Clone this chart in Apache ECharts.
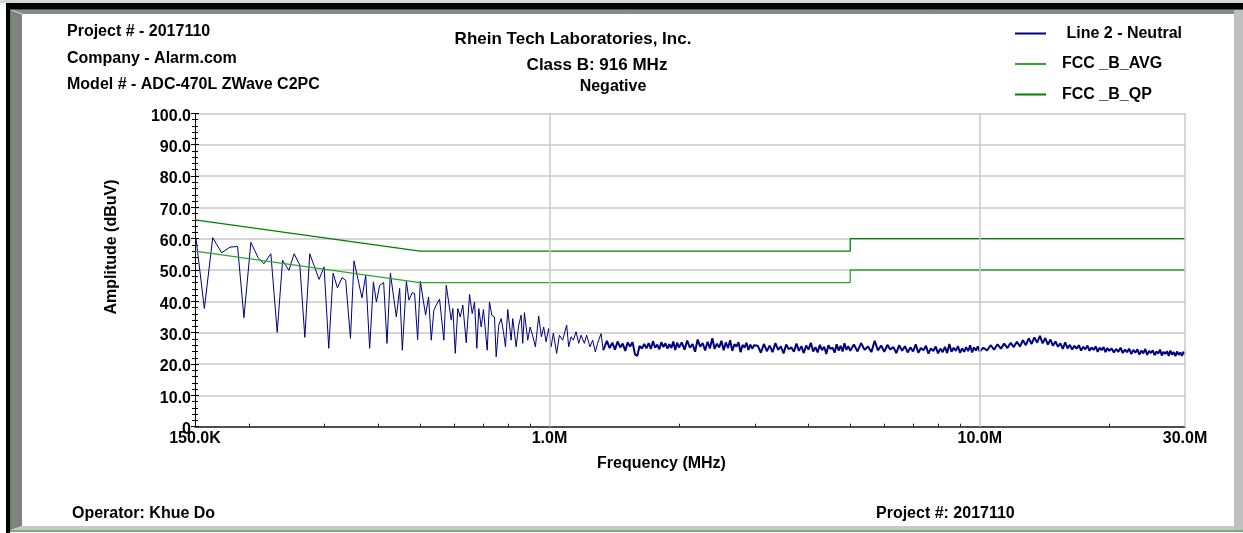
<!DOCTYPE html>
<html><head><meta charset="utf-8">
<script src="https://cdn.jsdelivr.net/npm/echarts@6/dist/echarts.min.js"></script>
<style>html,body{margin:0;padding:0;background:#fff}#c{width:1243px;height:533px}</style>
</head><body><div id="c"></div>
<script>
// ---- data (frequency in MHz, level in dBuV) ----
const neutralLow = [[0.1508,60.1],[0.1577,37.7],[0.1649,60.3],[0.1730,55.5],[0.1809,57.3],[0.1884,57.5],[0.1949,34.8],[0.2023,58.8],[0.2103,53.9],[0.2169,52.0],[0.2251,55.2],[0.2329,30.1],[0.2397,53.1],[0.2479,49.9],[0.2550,55.2],[0.2629,51.5],[0.2700,28.5],[0.2772,55.2],[0.2914,47.0],[0.2993,51.0],[0.3069,25.0],[0.3141,49.0],[0.3215,44.3],[0.3295,47.6],[0.3360,46.7],[0.3447,28.2],[0.3513,52.9],[0.3666,41.1],[0.3740,48.3],[0.3820,25.0],[0.3897,46.2],[0.3960,39.8],[0.4030,45.1],[0.4117,46.0],[0.4191,26.6],[0.4268,49.0],[0.4406,35.0],[0.4485,44.1],[0.4550,24.4],[0.4649,46.4],[0.4713,40.4],[0.4800,42.8],[0.4859,42.5],[0.4938,27.8],[0.5010,46.4],[0.5153,35.6],[0.5236,41.4],[0.5312,27.6],[0.5386,37.2],[0.5456,38.8],[0.5553,40.7],[0.5682,27.6],[0.5756,45.1],[0.5911,34.0],[0.5962,37.7],[0.6039,23.4],[0.6123,37.7],[0.6203,35.0],[0.6289,38.8],[0.6405,26.8],[0.6519,42.2],[0.6613,36.1],[0.6696,39.8],[0.6778,25.0],[0.6850,37.7],[0.6939,31.8],[0.7024,37.4],[0.7165,24.4],[0.7254,39.8],[0.7344,35.6],[0.7451,35.0],[0.7518,22.3],[0.7623,32.4],[0.7722,34.5],[0.7816,30.3],[0.7902,25.5],[0.7998,37.4],[0.8145,27.6],[0.8215,34.5],[0.8366,25.5],[0.8483,32.4],[0.8592,35.6],[0.8666,26.6],[0.8746,36.4],[0.8901,27.6],[0.9016,31.8],[0.9112,29.7],[0.9275,25.5],[0.9439,35.3],[0.9577,28.7],[0.9695,31.8],[0.9820,27.1],[0.9956,31.3],[1.0086,25.5],[1.0209,29.9],[1.0392,23.4],[1.0544,29.2],[1.0731,27.6],[1.0963,32.4],[1.1083,25.5],[1.1224,28.7],[1.1364,27.6],[1.1528,30.3],[1.1691,26.6],[1.1840,29.2],[1.2052,26.6],[1.2200,29.2],[1.2424,25.5],[1.2597,27.6],[1.2781,23.9],[1.2938,26.6],[1.3176,29.7],[1.3338,24.4]];

const neutralSweep = [
[1.3338,24.4],[1.36,27.4],[1.38,25.1],[1.40,26.8],[1.42,24.6],[1.44,27.2],[1.46,25.3],[1.48,26.5],[1.50,24.2],[1.52,26.9],[1.54,25.6],[1.56,27.0],[1.58,23.1],[1.60,22.6],[1.62,25.8],[1.64,24.9],[1.66,26.4],[1.68,25.0],[1.70,26.7],[1.72,24.8],[1.74,27.3],[1.76,25.2],[1.78,26.2],[1.80,24.7],[1.82,27.0],[1.84,25.4],[1.86,26.6],[1.88,24.9],[1.90,26.3],[1.92,25.1],[1.94,27.2],[1.96,24.5],[1.98,26.8],[2.00,25.3],
[2.03,26.9],[2.06,24.6],[2.09,27.5],[2.12,25.2],[2.15,26.4],[2.18,23.9],[2.21,27.8],[2.24,25.5],[2.27,26.7],[2.30,24.3],[2.33,27.1],[2.36,25.0],[2.39,28.2],[2.42,24.8],[2.45,26.5],[2.48,25.3],[2.51,27.4],[2.54,24.4],[2.57,26.9],[2.60,25.1],[2.63,27.6],[2.66,24.2],[2.69,26.3],[2.72,25.6],[2.75,27.0],[2.78,23.8],[2.81,26.1],[2.84,25.2],[2.87,26.8],[2.90,24.5],[2.93,26.2],[2.96,24.9],[2.99,26.0],
[3.05,25.8],[3.10,23.6],[3.15,26.4],[3.20,24.1],[3.25,25.9],[3.30,23.8],[3.35,26.7],[3.40,24.5],[3.45,25.6],[3.50,23.4],[3.55,26.2],[3.60,24.7],[3.65,25.3],[3.70,23.9],[3.75,26.5],[3.80,24.2],[3.85,25.7],[3.90,23.5],[3.95,25.9],[4.00,24.6],[4.05,26.8],[4.10,24.0],[4.15,25.4],[4.20,23.7],[4.25,26.1],[4.30,24.4],[4.35,25.5],[4.40,23.2],[4.45,26.0],[4.50,24.8],[4.55,25.2],[4.60,23.6],[4.65,26.3],[4.70,24.3],[4.75,25.8],[4.80,24.0],[4.85,26.6],[4.90,24.5],[4.95,25.7],[5.00,24.2],
[5.1,26.2],[5.2,24.0],[5.3,26.7],[5.4,24.5],[5.5,25.6],[5.6,23.8],[5.7,27.4],[5.8,24.3],[5.9,25.9],[6.0,23.9],[6.1,26.1],[6.2,24.6],[6.3,25.4],[6.4,23.5],[6.5,26.0],[6.6,24.2],[6.7,25.7],[6.8,23.7],[6.9,25.3],[7.0,24.0],[7.1,26.3],[7.2,23.6],[7.3,25.1],[7.4,24.4],[7.5,25.8],[7.6,23.3],[7.7,25.0],[7.8,24.1],[7.9,25.6],[8.0,23.4],[8.1,24.9],[8.2,23.8],[8.3,25.5],[8.4,23.5],[8.5,26.4],[8.6,23.9],[8.7,25.2],[8.8,24.2],[8.9,25.7],[9.0,23.6],[9.1,25.0],[9.2,23.9],[9.3,25.4],[9.4,24.1],[9.5,26.0],[9.6,23.7],[9.7,25.3],[9.8,24.3],[9.9,25.6],[10.0,24.0],
[10.2,25.2],[10.4,24.3],[10.6,26.0],[10.8,24.6],[11.0,26.3],[11.2,24.9],[11.4,26.5],[11.6,25.1],[11.8,26.8],[12.0,25.4],[12.2,27.1],[12.4,25.6],[12.6,27.6],[12.8,26.0],[13.0,28.2],[13.2,26.4],[13.4,28.5],[13.6,26.8],[13.8,29.0],[14.0,26.6],[14.2,28.3],[14.4,26.2],[14.6,27.8],[14.8,25.8],[15.0,27.2],[15.2,25.5],[15.4,26.6],[15.6,24.8],[15.8,26.9],[16.0,25.0],[16.2,26.1],[16.4,24.6],[16.6,25.8],[16.8,24.9],[17.0,26.0],[17.2,24.3],[17.4,25.5],[17.6,24.7],[17.8,25.9],[18.0,24.2],[18.2,25.3],[18.4,24.5],[18.6,25.6],[18.8,23.9],[19.0,25.2],[19.2,24.4],[19.4,25.4],[19.6,23.8],[19.8,25.1],[20.0,24.2],
[20.25,25.0],[20.5,23.7],[20.75,24.8],[21.0,23.9],[21.25,25.2],[21.5,23.5],[21.75,24.6],[22.0,23.8],[22.25,24.9],[22.5,23.2],[22.75,24.5],[23.0,23.6],[23.25,24.7],[23.5,23.0],[23.75,24.3],[24.0,23.4],[24.25,24.8],[24.5,22.9],[24.75,24.2],[25.0,23.5],[25.25,24.4],[25.5,22.8],[25.75,24.0],[26.0,23.3],[26.25,24.6],[26.5,22.7],[26.75,23.9],[27.0,23.2],[27.25,24.1],[27.5,22.6],[27.75,24.3],[28.0,23.0],[28.25,23.8],[28.5,22.5],[28.75,24.0],[29.0,22.9],[29.25,23.7],[29.5,22.6],[29.75,23.9],[30.0,23.1]];

const limitFreq = [0.15, 0.5, 5, 5, 30];
const qpLevel  = [66, 56, 56, 60, 60];
const avgLevel = [56, 46, 46, 50, 50];

const xLabelValues = [0.15, 1, 10, 30];
const xMinorValues = [0.2,0.3,0.4,0.5,0.6,0.7,0.8,0.9,2,3,4,5,6,7,8,9,20];
const xGridValues = [1, 10, 30];
const seriesNames = ['Line 2 - Neutral', 'FCC _B_AVG', 'FCC _B_QP'];

const headerLeft = ['Project # - 2017110', 'Company - Alarm.com', 'Model # - ADC-470L ZWave C2PC'];
const headerCenter = ['Rhein Tech Laboratories, Inc.', 'Class B: 916 MHz', 'Negative'];
const footer = ['Operator: Khue Do', 'Project #: 2017110'];

// ---- chart ----
const FONT = '"Liberation Sans", Arial, sans-serif';
const chart = echarts.init(document.getElementById('c'), null, {renderer: 'canvas'});

function txt(text, x, y, size, align, rot) {
  return {type: 'text', x: x, y: y, rotation: rot || 0, z: 100, silent: true,
    style: {text: text, fill: '#000', font: 'bold ' + size + 'px ' + FONT,
      textAlign: align, align: align, textVerticalAlign: 'middle', verticalAlign: 'middle'}};
}

const graphics = [
  // frame
  {type: 'rect', shape: {x: 0, y: 0, width: 1243, height: 3}, style: {fill: '#d6d6d6'}, z: 90, silent: true},
  {type: 'rect', shape: {x: 6, y: 3, width: 1237, height: 6}, style: {fill: '#000'}, z: 90, silent: true},
  {type: 'rect', shape: {x: 6, y: 3, width: 4, height: 530}, style: {fill: '#000'}, z: 90, silent: true},
  {type: 'polygon', shape: {points: [[11, 10], [1234, 10], [1234, 14], [22, 14]]}, style: {fill: '#8a8a8a'}, z: 90, silent: true},
  {type: 'polygon', shape: {points: [[11, 10], [22, 14], [22, 526], [11, 530]]}, style: {fill: '#808080'}, z: 90, silent: true},
  {type: 'line', shape: {x1: 11, y1: 10, x2: 22, y2: 14}, style: {stroke: '#d8d8d8', lineWidth: 1}, z: 91, silent: true},
  {type: 'polygon', shape: {points: [[1234, 10], [1243, 10], [1243, 530], [1234, 530]]}, style: {fill: '#c0c0c0'}, z: 90, silent: true},
  {type: 'polygon', shape: {points: [[22, 526], [1234, 526], [1234, 530], [11, 530]]}, style: {fill: '#c8c8c8'}, z: 90, silent: true},
  {type: 'line', shape: {x1: 10.5, y1: 9, x2: 10.5, y2: 531}, style: {stroke: '#3f9a3f', lineWidth: 1}, z: 92, silent: true},
  {type: 'line', shape: {x1: 10, y1: 531, x2: 1243, y2: 531}, style: {stroke: '#3f9a3f', lineWidth: 1.5}, z: 92, silent: true},
  {type: 'line', shape: {x1: 10, y1: 9.5, x2: 1243, y2: 9.5}, style: {stroke: '#2f6f2f', lineWidth: 1}, z: 92, silent: true},
  // header / footer texts
  txt(headerLeft[0], 67, 32, 16, 'left'),
  txt(headerLeft[1], 67, 58.5, 16, 'left'),
  txt(headerLeft[2], 67, 85, 16, 'left'),
  txt(headerCenter[0], 573, 39.5, 17, 'center'),
  txt(headerCenter[1], 597, 65, 17, 'center'),
  txt(headerCenter[2], 613, 86.5, 16, 'center'),
  txt(footer[0], 72, 514, 16, 'left'),
  txt(footer[1], 876, 514, 16, 'left'),
  txt('Frequency (MHz)', 661.5, 464, 16, 'center'),
  txt('Amplitude (dBuV)', 112, 247, 16, 'center', Math.PI / 2)
];

function fmtX(v) {
  return v < 1 ? (v * 1000).toFixed(1) + 'K' : v.toFixed(1) + 'M';
}

const yBase = {
  type: 'value', min: 0, max: 100, interval: 10, position: 'left', gridIndex: 0
};

const option = {
  animation: false,
  backgroundColor: '#fff',
  grid: {left: 195, right: 58, top: 113.3, bottom: 106.3, containLabel: false},
  legend: {
    orient: 'vertical', left: 1010, top: 20.5, itemWidth: 31, itemHeight: 2, itemGap: 14.5,
    icon: 'rect', selectedMode: false, data: seriesNames,
    formatter: function (n) { return n === seriesNames[0] ? ' ' + n : n; },
    textStyle: {fontFamily: FONT, fontWeight: 'bold', fontSize: 16, color: '#000', padding: [0, 0, 0, 11]}
  },
  xAxis: {
    type: 'log', logBase: 10, min: 0.15, max: 30,
    axisLine: {show: true, onZero: false, lineStyle: {color: '#222', width: 1.5}},
    axisTick: {show: true, inside: true, length: 3, customValues: xMinorValues, lineStyle: {color: '#222'}},
    axisLabel: {show: true, customValues: xLabelValues, formatter: fmtX, margin: 4,
      fontFamily: FONT, fontWeight: 'bold', fontSize: 16, color: '#000', showMinLabel: true, showMaxLabel: true},
    splitLine: {show: false}, minorTick: {show: false}, minorSplitLine: {show: false}
  },
  yAxis: [
    Object.assign({}, yBase, {
      axisLine: {show: true, lineStyle: {color: '#000', width: 1}},
      axisTick: {show: true, inside: false, length: 4, lineStyle: {color: '#000'}},
      minorTick: {show: true, splitNumber: 5, length: 3, lineStyle: {color: '#000'}},
      axisLabel: {margin: 4, verticalAlign: 'top', lineHeight: 6, fontFamily: FONT, fontWeight: 'bold', fontSize: 16, color: '#000',
        formatter: function (v) { return v === 0 ? '0' : v.toFixed(1); }},
      splitLine: {show: true, lineStyle: {color: '#c8c8c8', width: 1.5}}
    }),
    Object.assign({}, yBase, {
      axisLine: {show: false},
      axisTick: {show: true, inside: true, length: 4, lineStyle: {color: '#000'}},
      minorTick: {show: true, splitNumber: 5, length: 3, lineStyle: {color: '#000'}},
      axisLabel: {show: false},
      splitLine: {show: false}
    })
  ],
  graphic: graphics,
  series: [
    {
      name: 'grid', type: 'line', z: 1, silent: true, showSymbol: false,
      data: [[0.15, 0], [30, 0]], lineStyle: {width: 0, opacity: 0},
      markLine: {silent: true, symbol: ['none', 'none'], label: {show: false},
        lineStyle: {color: '#c8c8c8', width: 1.5, type: 'solid'},
        emphasis: {disabled: true},
        data: xGridValues.map(function (v) { return {xAxis: v}; })}
    },
    {
      name: seriesNames[0], type: 'line', z: 3, color: '#000080',
      showSymbol: false, symbol: 'none', silent: true,
      lineStyle: {color: '#000080', width: 1},
      data: neutralLow
    },
    {
      name: seriesNames[0], type: 'line', z: 3, color: '#000080',
      showSymbol: false, symbol: 'none', silent: true,
      lineStyle: {color: '#000080', width: 2},
      data: neutralSweep
    },
    {
      name: seriesNames[1], type: 'line', z: 4, color: '#2ea52e',
      showSymbol: false, symbol: 'none', silent: true,
      lineStyle: {color: '#2ea52e', width: 1.3},
      data: limitFreq.map(function (f, i) { return [f, avgLevel[i]]; })
    },
    {
      name: seriesNames[2], type: 'line', z: 4, color: '#008000',
      showSymbol: false, symbol: 'none', silent: true,
      lineStyle: {color: '#008000', width: 1.3},
      data: limitFreq.map(function (f, i) { return [f, qpLevel[i]]; })
    }
  ]
};
chart.setOption(option);
</script>
</body></html>
